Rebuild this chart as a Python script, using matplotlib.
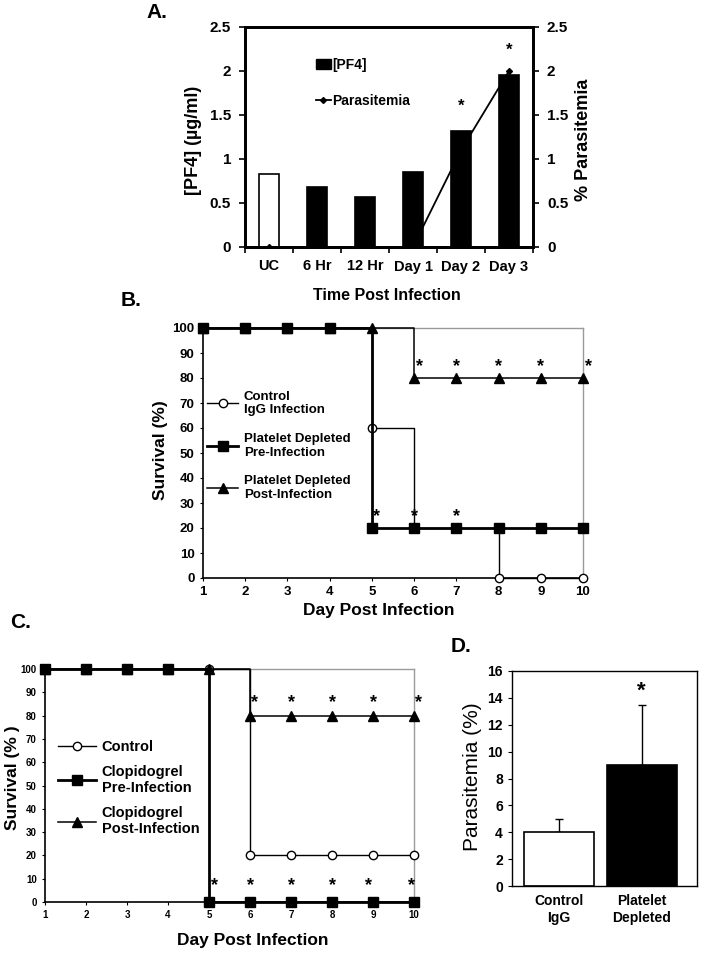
import numpy as np
import matplotlib.pyplot as plt
from matplotlib.patches import Patch
from matplotlib.lines import Line2D

# ---- data ----
# A: PF4 level and parasitemia over time
a_cats = ['UC', '6 Hr', '12 Hr', 'Day 1', 'Day 2', 'Day 3']
a_pf4 = [0.83, 0.68, 0.57, 0.85, 1.32, 1.95]
a_para = [0, 0, 0, 0, 1.1, 2.0]
a_star_idx = [4, 5]
a_star_y = [1.6, 2.24]

# B: survival, platelet depletion
days = [1, 2, 3, 4, 5, 6, 7, 8, 9, 10]
b_control = [100, 100, 100, 100, 60, 20, 20, 0, 0, 0]
b_pre = [100, 100, 100, 100, 20, 20, 20, 20, 20, 20]
b_post = [100, 100, 100, 100, 100, 80, 80, 80, 80, 80]
b_post_stars = [6, 7, 8, 9, 10]
b_pre_stars = [5, 6, 7]

# C: survival, clopidogrel
c_control = [100, 100, 100, 100, 100, 20, 20, 20, 20, 20]
c_pre = [100, 100, 100, 100, 0, 0, 0, 0, 0, 0]
c_post = [100, 100, 100, 100, 100, 80, 80, 80, 80, 80]
c_post_stars = [6, 7, 8, 9, 10]
c_pre_stars = [5, 6, 7, 8, 9, 10]

# D: parasitemia
d_groups = ['Control\nIgG', 'Platelet\nDepleted']
d_means = [4.0, 9.0]
d_err = [1.0, 4.5]

plt.rcParams['font.family'] = ['Liberation Sans', 'DejaVu Sans']
plt.rcParams['font.weight'] = 'bold'
plt.rcParams['axes.labelweight'] = 'bold'

W, H = 704, 956
fig = plt.figure(figsize=(W / 100, H / 100), dpi=100)


def box(l, t, r, b):
    return [l / W, 1 - b / H, (r - l) / W, (b - t) / H]


def ftext(x, y, s, **kw):
    fig.text(x / W, 1 - y / H, s, ha='center', va='center', **kw)


# ---------------- A ----------------
axA = fig.add_axes(box(245, 27, 533, 247))
x = np.arange(len(a_cats))
axA.bar(x, a_pf4, width=0.4, color=['white'] + ['black'] * 5,
        edgecolor='black', linewidth=1.2, zorder=2)
axA.set_xlim(-0.5, 5.5)
axA.set_ylim(0, 2.5)
yt = [0, 0.5, 1, 1.5, 2, 2.5]
ytl = ['0', '0.5', '1', '1.5', '2', '2.5']
axA.set_yticks(yt)
axA.set_yticklabels(ytl, fontsize=11)
axA.set_xticks(x)
axA.set_xticklabels(a_cats, fontsize=10.5)
axA.set_xticks(np.arange(-0.5, 6, 1), minor=True)
axA.tick_params(axis='x', which='major', length=0, pad=9)
axA.tick_params(axis='x', which='minor', length=4, width=1.2)
axA.tick_params(axis='y', length=4, width=1.2, pad=6)
for s in axA.spines.values():
    s.set_linewidth(2)

axA2 = axA.twinx()
axA2.plot(x, a_para, '-', marker='D', ms=3, color='black', lw=1.3, zorder=3)
axA2.set_ylim(0, 2.5)
axA2.set_yticks(yt)
axA2.set_yticklabels(ytl, fontsize=11)
axA2.tick_params(axis='y', length=4, width=1.2, pad=6)
for s in axA2.spines.values():
    s.set_linewidth(2)
for i, yv in zip(a_star_idx, a_star_y):
    axA2.text(x[i], yv, '*', ha='center', va='center', fontsize=12)

handles = [Patch(facecolor='black', edgecolor='black'),
           Line2D([], [], color='black', marker='D', ms=3, lw=1.3)]
axA2.legend(handles, ['[PF4]', 'Parasitemia'], loc='upper left',
            bbox_to_anchor=(0.245, 0.86), frameon=False, borderpad=0,
            borderaxespad=0, handlelength=1.1, handletextpad=0.1,
            labelspacing=1.6, prop={'size': 10, 'weight': 'bold'})

ftext(193, 140, '[PF4] (\u00b5g/ml)', rotation=90, fontsize=13, fontweight='bold')
ftext(584, 140, '% Parasitemia', rotation=90, fontsize=13, fontweight='bold')
ftext(387, 295, 'Time Post Infection', fontsize=11.5, fontweight='bold')
ftext(157, 13, 'A.', fontsize=15, fontweight='bold')


# ---------------- survival panels ----------------
def survival(ax, control, pre, post, tick_fs):
    ax.plot(days, control, drawstyle='steps-post', color='black', lw=1,
            marker='o', ms=6, mfc='white', mec='black', mew=1,
            zorder=3, clip_on=False)
    ax.plot(days, post, drawstyle='steps-post', color='black', lw=1.1,
            marker='^', ms=7, zorder=4, clip_on=False)
    ax.plot(days, pre, drawstyle='steps-post', color='black', lw=2,
            marker='s', ms=7, zorder=5, clip_on=False)
    ax.set_xlim(1, 10)
    ax.set_ylim(0, 100)
    ax.set_xticks(days)
    ax.set_yticks(range(0, 101, 10))
    ax.tick_params(labelsize=tick_fs, length=2, width=0.8, pad=4)
    for k in ['top', 'right']:
        ax.spines[k].set_color('#9a9a9a')
        ax.spines[k].set_linewidth(1)
    for k in ['left', 'bottom']:
        ax.spines[k].set_linewidth(1.2)


# B
axB = fig.add_axes(box(203, 328, 583, 578))
survival(axB, b_control, b_pre, b_post, 9.5)
for d in b_post_stars:
    dx = 0.12 if d in (6, 10) else 0
    axB.text(d + dx, b_post[d - 1] + 4.5, '*', ha='center', va='center', fontsize=13)
for d in b_pre_stars:
    dx = 0.12 if d == 5 else 0
    axB.text(d + dx, b_pre[d - 1] + 4.5, '*', ha='center', va='center', fontsize=13)
hB = [Line2D([], [], color='black', lw=1, marker='o', ms=6, mfc='white'),
      Line2D([], [], color='black', lw=2, marker='s', ms=7),
      Line2D([], [], color='black', lw=1.1, marker='^', ms=7)]
axB.legend(hB, ['Control\nIgG Infection', 'Platelet Depleted\nPre-Infection',
                'Platelet Depleted\nPost-Infection'],
           loc='upper left', bbox_to_anchor=(0.01, 0.75), frameon=False,
           borderpad=0, borderaxespad=0, handlelength=2.4, handletextpad=0.4,
           labelspacing=1.25, fontsize=9.5)
ftext(161, 450, 'Survival (%)', rotation=90, fontsize=12.5, fontweight='bold')
ftext(379, 610, 'Day Post Infection', fontsize=12.5, fontweight='bold')
ftext(131, 301, 'B.', fontsize=15, fontweight='bold')

# C
axC = fig.add_axes(box(45, 669, 414, 902))
survival(axC, c_control, c_pre, c_post, 7)
c_post_dx = {6: 0.12, 10: 0.12}
c_pre_dx = {5: 0.13, 9: -0.1, 10: -0.07}
for d in c_post_stars:
    axC.text(d + c_post_dx.get(d, 0), c_post[d - 1] + 5.5, '*', ha='center',
             va='center', fontsize=13)
for d in c_pre_stars:
    axC.text(d + c_pre_dx.get(d, 0), c_pre[d - 1] + 7, '*', ha='center',
             va='center', fontsize=13)
hC = [Line2D([], [], color='black', lw=1, marker='o', ms=6, mfc='white'),
      Line2D([], [], color='black', lw=2, marker='s', ms=7),
      Line2D([], [], color='black', lw=1.1, marker='^', ms=7)]
axC.legend(hC, ['Control', 'Clopidogrel\nPre-Infection',
                'Clopidogrel\nPost-Infection'],
           loc='upper left', bbox_to_anchor=(0.035, 0.695), frameon=False,
           borderpad=0, borderaxespad=0, handlelength=2.6, handletextpad=0.4,
           labelspacing=0.75, fontsize=10.5)
ftext(13, 778, 'Survival (% )', rotation=90, fontsize=12.5, fontweight='bold')
ftext(253, 941, 'Day Post Infection', fontsize=12.5, fontweight='bold')
ftext(21, 622, 'C.', fontsize=15, fontweight='bold')

# ---------------- D ----------------
axD = fig.add_axes(box(512, 671, 697, 886))
xd = np.arange(len(d_groups))
axD.bar(xd, d_means, width=0.85, color=['white', 'black'], edgecolor='black',
        linewidth=1.2, zorder=2)
axD.errorbar(xd, d_means, yerr=[[0, 0], d_err], fmt='none', ecolor='black',
             elinewidth=1, capsize=3, capthick=1, zorder=1)
axD.text(xd[1], 14.5, '*', ha='center', va='center', fontsize=16, fontweight='bold')
axD.set_xlim(-0.57, 1.67)
axD.set_ylim(0, 16)
axD.set_yticks(range(0, 17, 2))
axD.set_xticks(xd)
axD.set_xticklabels(d_groups, fontsize=10)
axD.tick_params(axis='x', length=0, pad=6)
axD.tick_params(axis='y', labelsize=10, length=3, width=0.8)
for s in axD.spines.values():
    s.set_linewidth(1)
ftext(472, 777, 'Parasitemia (%)', rotation=90, fontsize=15, fontweight='normal')
ftext(461, 647, 'D.', fontsize=15, fontweight='bold')

fig.savefig('out.png', dpi=100)
